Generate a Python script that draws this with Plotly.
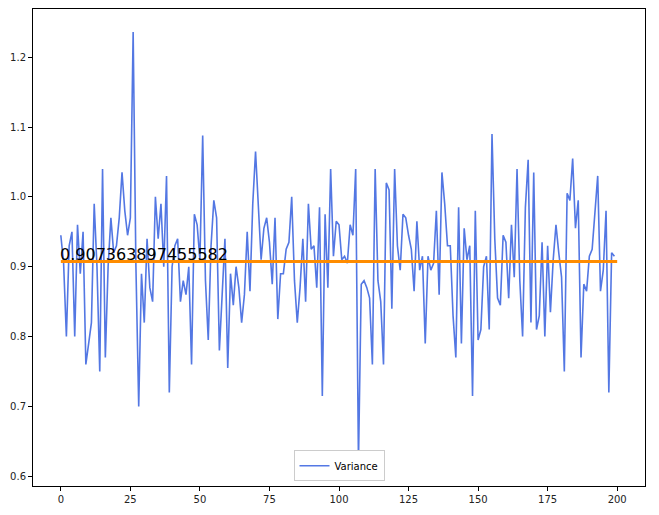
import plotly.graph_objects as go

# variance per run
variance = [
    0.945, 0.905, 0.80, 0.93, 0.95, 0.80, 0.96, 0.89, 0.95, 0.76,
    0.79, 0.82, 0.99, 0.90, 0.75, 1.04, 0.77, 0.90, 0.97, 0.92,
    0.93, 0.97, 1.035, 0.98, 0.945, 0.97, 1.236, 0.90, 0.70, 0.89,
    0.82, 0.94, 0.87, 0.85, 1.00, 0.94, 0.99, 0.90, 1.03, 0.72,
    0.90, 0.93, 0.94, 0.85, 0.88, 0.86, 0.90, 0.76, 0.975, 0.96,
    0.91, 1.088, 0.88, 0.795, 0.93, 0.995, 0.97, 0.78, 0.86, 0.94,
    0.755, 0.89, 0.845, 0.90, 0.87, 0.82, 0.86, 0.95, 0.865, 0.99,
    1.065, 0.98, 0.91, 0.955, 0.97, 0.935, 0.875, 0.97, 0.825, 0.89,
    0.89, 0.925, 0.935, 1.00, 0.88, 0.82, 0.87, 0.94, 0.85, 0.99,
    0.925, 0.93, 0.87, 0.985, 0.715, 0.975, 0.87, 1.04, 0.915, 0.965,
    0.96, 0.91, 0.915, 0.905, 0.96, 0.945, 1.04, 0.62, 0.875, 0.88,
    0.87, 0.855, 0.76, 1.04, 0.88, 0.85, 0.76, 1.02, 1.01, 0.84,
    1.04, 0.93, 0.895, 0.975, 0.97, 0.945, 0.925, 0.865, 0.965, 0.895,
    0.915, 0.79, 0.915, 0.895, 0.905, 0.98, 0.86, 1.035, 0.99, 0.93,
    0.93, 0.83, 0.77, 0.985, 0.79, 0.955, 0.91, 0.93, 0.715, 0.98,
    0.795, 0.81, 0.90, 0.915, 0.81, 1.09, 0.94, 0.855, 0.845, 0.945,
    0.935, 0.855, 0.96, 0.885, 1.04, 0.88, 0.80, 0.985, 1.053, 0.82,
    1.035, 0.81, 0.83, 0.935, 0.80, 0.93, 0.835, 0.91, 0.96, 0.92,
    0.885, 0.75, 1.005, 0.995, 1.055, 0.955, 0.995, 0.77, 0.875, 0.865,
    0.915, 0.925, 0.98, 1.03, 0.865, 0.895, 0.98, 0.72, 0.92, 0.915,
]
runs = list(range(len(variance)))
mean_value = 0.907363897455582
mean_span = [0, len(variance)]

x_ticks = [0, 25, 50, 75, 100, 125, 150, 175, 200]
y_ticks = [0.6, 0.7, 0.8, 0.9, 1.0, 1.1, 1.2]

fig = go.Figure()
fig.add_trace(go.Scatter(
    x=runs, y=variance, mode="lines", name="Variance",
    line=dict(color="royalblue", width=1.6), opacity=0.9,
))
fig.add_trace(go.Scatter(
    x=mean_span, y=[mean_value, mean_value], mode="lines",
    line=dict(color="darkorange", width=3), showlegend=False,
))
fig.add_annotation(
    x=0, y=mean_value, text=str(mean_value), showarrow=False,
    xanchor="left", yanchor="bottom", yshift=-4, xshift=-3,
    font=dict(family="DejaVu Sans", size=16, color="black"),
)

axis_style = dict(
    showgrid=False, zeroline=False, showline=True, linecolor="black",
    linewidth=1, mirror=True, ticks="outside", ticklen=4, automargin=False,
    tickcolor="black", tickfont=dict(family="DejaVu Sans", size=10, color="#222"),
)
fig.update_xaxes(range=[-10, 210], tickvals=x_ticks, **axis_style)
fig.update_yaxes(range=[0.586, 1.269], tickvals=y_ticks, tickformat=".1f", **axis_style)

# page has an 8px body margin, so the figure is a bit smaller than the window
fig.update_layout(
    width=651, height=507,
    margin=dict(l=25, r=14, t=1, b=29),
    plot_bgcolor="white", paper_bgcolor="white",
    legend=dict(
        x=0.5, y=0.01, xanchor="center", yanchor="bottom",
        bgcolor="white", bordercolor="#cccccc", borderwidth=1,
        font=dict(family="DejaVu Sans", size=10, color="black"),
    ),
)
fig.write_html("out.html")
